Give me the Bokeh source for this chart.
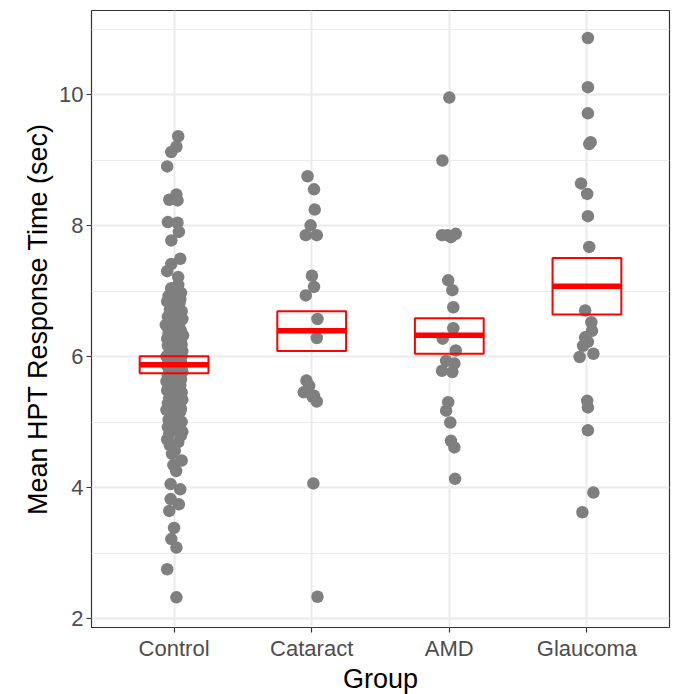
from bokeh.plotting import figure
from bokeh.models import Range1d, FixedTicker
from bokeh.embed import file_html
from bokeh.resources import INLINE

categories = ["Control", "Cataract", "AMD", "Glaucoma"]

control_vals = [
    9.37, 9.21, 9.13, 8.91, 8.48, 8.40, 8.39, 8.06, 8.05, 7.91,
    7.78, 7.50, 7.42, 7.31, 7.22, 7.10, 7.05, 6.98, 6.93, 6.91,
    6.85, 6.83, 6.79, 6.72, 6.70, 6.68, 6.63, 6.61, 6.58, 6.55,
    6.52, 6.49, 6.46, 6.42, 6.40, 6.37, 6.33, 6.31, 6.28, 6.25,
    6.22, 6.19, 6.17, 6.14, 6.11, 6.09, 6.06, 6.04, 6.01, 5.99,
    5.97, 5.95, 5.93, 5.91, 5.89, 5.87, 5.85, 5.83, 5.81, 5.79,
    5.77, 5.75, 5.73, 5.71, 5.69, 5.66, 5.63, 5.61, 5.59, 5.57,
    5.54, 5.51, 5.49, 5.46, 5.43, 5.40, 5.37, 5.35, 5.32, 5.29,
    5.27, 5.24, 5.21, 5.19, 5.17, 5.12, 5.08, 5.04, 5.01, 4.99,
    4.96, 4.93, 4.89, 4.86, 4.83, 4.80, 4.74, 4.70, 4.65, 4.57,
    4.52, 4.42, 4.35, 4.26, 4.06, 3.98, 3.83, 3.75, 3.65, 3.39,
    3.22, 3.09, 2.76, 2.33, 6.88, 6.45, 6.02, 5.94, 5.86, 6.27,
]
control_jit = [
    0.03, 0.017, -0.02, -0.05, 0.017, -0.035, 0.025, -0.045, 0.025, 0.035,
    -0.02, 0.045, -0.02, -0.05, 0.03, 0.03, -0.02, 0.05, -0.04, 0.02,
    -0.05, 0.04, 0.01, -0.03, 0.055, -0.02, 0.03, -0.045, 0.06, -0.01,
    0.04, -0.06, 0.02, -0.03, 0.05, -0.04, 0.065, 0.0, -0.05, 0.03,
    -0.02, 0.055, -0.045, 0.04, -0.01, 0.06, -0.03, 0.02, -0.055, 0.045,
    0.01, -0.04, 0.05, -0.025, 0.03, -0.05, 0.045, -0.01, 0.055, -0.035,
    0.06, -0.02, 0.04, -0.045, 0.0, 0.05, -0.055, 0.03, -0.03, 0.045,
    -0.04, 0.02, -0.05, 0.055, -0.02, 0.04, -0.035, 0.06, 0.01, -0.045,
    0.03, -0.03, 0.05, -0.055, 0.045, -0.01, 0.02, -0.04, 0.055, -0.02,
    0.04, -0.045, 0.01, 0.06, -0.035, 0.05, -0.05, 0.03, -0.03, 0.005,
    -0.015, 0.055, -0.005, 0.015, -0.025, 0.045, -0.025, 0.035, -0.035, 0.0,
    -0.02, 0.017, -0.05, 0.017, 0.045, -0.045, 0.055, -0.03, 0.02, 0.05,
]

cataract_vals = [8.76, 8.56, 8.25, 8.01, 7.86, 7.86, 7.24, 7.07, 6.94, 6.58,
                 6.29, 5.64, 5.56, 5.46, 5.41, 5.39, 5.32, 4.07, 2.34]
cataract_jit = [-0.03, 0.017, 0.022, -0.008, -0.043, 0.037, 0.002, 0.017, -0.043, 0.042,
                0.037, -0.038, -0.018, -0.058, 0.017, 0.007, 0.037, 0.012, 0.042]

amd_vals = [9.96, 9.00, 7.86, 7.86, 7.88, 7.83, 7.17, 7.02, 6.76, 6.44,
            6.28, 6.10, 5.94, 5.90, 5.79, 5.77, 5.31, 5.18, 5.00, 4.72,
            4.62, 4.14]
amd_jit = [0.0, -0.05, -0.053, -0.013, 0.047, 0.012, -0.008, 0.022, 0.029, 0.029,
           -0.048, 0.047, -0.023, 0.037, -0.053, 0.022, -0.008, -0.023, 0.007, 0.012,
           0.037, 0.042]

glaucoma_vals = [10.87, 10.12, 9.72, 9.28, 9.25, 8.65, 8.49, 8.15, 7.68, 6.71,
                 6.53, 6.40, 6.30, 6.23, 6.17, 6.05, 6.00, 5.33, 5.23, 4.88,
                 3.93, 3.63]
glaucoma_jit = [0.007, 0.007, 0.007, 0.027, 0.017, -0.043, 0.002, 0.007, 0.017, -0.013,
                0.032, 0.037, -0.013, 0.007, -0.028, 0.047, -0.053, 0.002, 0.007, 0.007,
                0.047, -0.033]

# crossbar summaries (mean, lower, upper)
cb_mean = [5.88, 6.40, 6.33, 7.08]
cb_lower = [5.75, 6.09, 6.05, 6.65]
cb_upper = [6.01, 6.70, 6.59, 7.51]

y_ticks = [2, 4, 6, 8, 10]

FONT = "Liberation Sans"

p = figure(frame_width=578, frame_height=617, output_backend="svg", toolbar_location=None,
           x_range=Range1d(0.4, 4.6), y_range=Range1d(1.87, 11.29),
           min_border_left=91, min_border_top=10, min_border_right=4, min_border_bottom=4)
p.background_fill_color = "white"
p.border_fill_color = "white"
p.outline_line_color = "#333333"
p.outline_line_width = 1.2

groups = [control_vals, cataract_vals, amd_vals, glaucoma_vals]
jits = [control_jit, cataract_jit, amd_jit, glaucoma_jit]
for i, (vals, jit) in enumerate(zip(groups, jits)):
    xs = [i + 1 + j for j in jit]
    p.scatter(xs, vals, size=12.5, color="#7F7F7F", line_color=None)

pos = [i + 1 for i in range(len(categories))]
p.quad(left=[x - 0.25 for x in pos], right=[x + 0.25 for x in pos],
       bottom=cb_lower, top=cb_upper, fill_color=None, line_color="#FF0000", line_width=2)
p.segment(x0=[x - 0.25 for x in pos], x1=[x + 0.25 for x in pos],
          y0=cb_mean, y1=cb_mean, line_color="#FF0000", line_width=5.5)

p.xaxis.ticker = FixedTicker(ticks=pos)
p.xaxis.major_label_overrides = {i + 1: c for i, c in enumerate(categories)}
p.yaxis.ticker = FixedTicker(ticks=y_ticks, minor_ticks=[3, 5, 7, 9, 11])

for ax in (p.xaxis[0], p.yaxis[0]):
    ax.axis_line_color = None
    ax.major_tick_line_color = "#333333"
    ax.major_tick_line_width = 1.2
    ax.major_tick_out = 5
    ax.major_tick_in = 0
    ax.minor_tick_line_color = None
    ax.major_label_text_font = FONT
    ax.major_label_text_font_size = "22px"
    ax.major_label_text_color = "#4D4D4D"
    ax.axis_label_text_font = FONT
    ax.axis_label_text_font_size = "27px"
    ax.axis_label_text_font_style = "normal"
    ax.axis_label_text_color = "black"
    ax.major_label_standoff = 3

p.xaxis.axis_label = "Group"
p.yaxis.axis_label = "Mean HPT Response Time (sec)"
p.xaxis.axis_label_standoff = 0
p.yaxis.axis_label_standoff = 3

p.xgrid.ticker = FixedTicker(ticks=pos)
p.xgrid.grid_line_color = "#EBEBEB"
p.xgrid.grid_line_width = 2
p.ygrid.grid_line_color = "#EBEBEB"
p.ygrid.grid_line_width = 2
p.ygrid.minor_grid_line_color = "#EBEBEB"
p.ygrid.minor_grid_line_width = 1

open("out.html", "w").write(file_html(p, INLINE))
